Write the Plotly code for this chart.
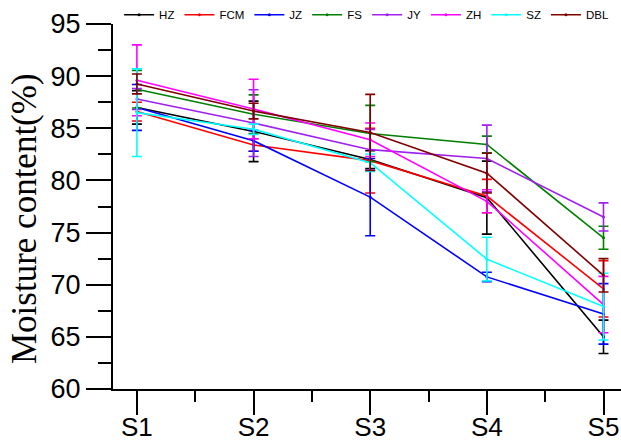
import plotly.graph_objects as go

stages = ["S1", "S2", "S3", "S4", "S5"]
series_names = ["HZ", "FCM", "JZ", "FS", "JY", "ZH", "SZ", "DBL"]

hz = [87.0, 84.7, 82.0, 78.35, 65.0]
hz_err = [1.6, 2.9, 0.85, 3.5, 1.6]
fcm = [86.6, 83.4, 81.9, 78.5, 69.6]
fcm_err = [0.9, 0.6, 3.1, 1.6, 2.7]
jz = [87.0, 83.8, 78.4, 70.75, 67.2]
jz_err = [2.2, 1.0, 3.7, 0.45, 2.9]
fs = [88.75, 86.35, 84.5, 83.45, 74.5]
fs_err = [1.8, 1.85, 2.7, 0.8, 1.1]
jy = [87.8, 85.5, 82.95, 82.1, 76.5]
jy_err = [1.0, 3.2, 1.95, 3.2, 1.35]
zh = [89.6, 86.85, 83.9, 78.0, 68.1]
zh_err = [3.4, 2.85, 1.6, 1.1, 2.7]
sz = [86.5, 84.9, 81.7, 72.45, 67.9]
sz_err = [4.2, 0.5, 0.83, 2.1, 3.2]
dbl = [89.25, 86.65, 84.6, 80.7, 70.9]
dbl_err = [0.95, 0.75, 3.65, 1.9, 1.6]

values = [hz, fcm, jz, fs, jy, zh, sz, dbl]
errors = [hz_err, fcm_err, jz_err, fs_err, jy_err, zh_err, sz_err, dbl_err]
colors = ["#000000", "#FF0000", "#0000FF", "#008000", "#A020F0", "#FF00FF", "#00FFFF", "#800000"]

y_ticks = [60, 65, 70, 75, 80, 85, 90, 95]
y_title = "Moisture content(%)"

fig = go.Figure()
for name, v, e, c in zip(series_names, values, errors, colors):
    fig.add_trace(go.Scatter(
        x=stages, y=v, name=name, mode="lines+markers",
        line=dict(color=c, width=1.6),
        marker=dict(color=c, size=3),
        error_y=dict(type="data", array=e, color=c, thickness=1.6, width=5),
    ))

# invisible trace to activate overlay axis carrying minor x ticks between categories
fig.add_trace(go.Scatter(x=[0], y=[60], xaxis="x2", mode="markers",
                         marker=dict(opacity=0), showlegend=False, hoverinfo="skip"))

xr = [-0.205, 4.15]
fig.update_layout(
    width=621, height=441,
    margin=dict(l=113, r=0, t=24, b=52, autoexpand=False),
    paper_bgcolor="white", plot_bgcolor="white",
    font=dict(family="Arial, Liberation Sans, sans-serif", color="black"),
    showlegend=True,
    legend=dict(orientation="h", x=0.012, xanchor="left", y=1.065, yanchor="top",
                font=dict(size=11.5, family="Arial, Liberation Sans, sans-serif"),
                bgcolor="rgba(0,0,0,0)", borderwidth=0, tracegroupgap=0, itemwidth=30),
    xaxis=dict(type="category", range=xr, showline=True, linecolor="black", linewidth=2,
               ticks="outside", ticklen=24, tickwidth=2, tickcolor="black",
               tickfont=dict(size=26), ticklabelstandoff=-10,
               showgrid=False, zeroline=False),
    xaxis2=dict(overlaying="x", range=xr, showline=False, showgrid=False, zeroline=False,
                ticks="outside", tickvals=[0.5, 1.5, 2.5, 3.5], ticklen=12, tickwidth=2,
                tickcolor="black", showticklabels=False, side="bottom", anchor="y"),
    yaxis=dict(range=[60, 95], tickvals=y_ticks, showline=True, linecolor="black", linewidth=2,
               ticks="outside", ticklen=25, tickwidth=2, tickcolor="black",
               tickfont=dict(size=27), showgrid=False, zeroline=False,
               minor=dict(dtick=2.5, ticks="outside", ticklen=13, tickwidth=2, tickcolor="black")),
    annotations=[dict(text=y_title, textangle=-90, xref="paper", yref="paper",
                      x=-0.173, y=0.466, xanchor="center", yanchor="middle", showarrow=False,
                      font=dict(size=35, family="Liberation Serif, Times New Roman, serif",
                                color="black"))],
)

fig.write_html("out.html", config={"displayModeBar": False},
               post_script="document.body.style.margin='0';document.body.style.overflow='hidden';")
